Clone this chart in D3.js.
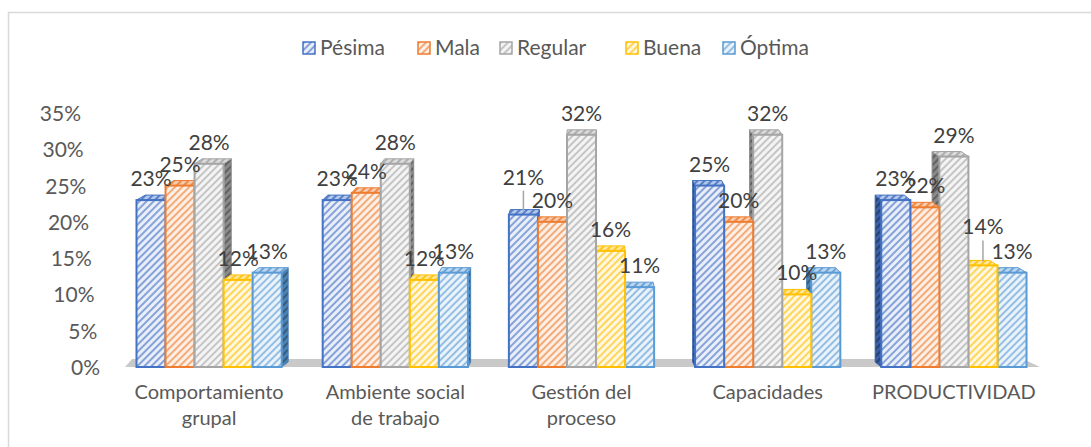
<!DOCTYPE html>
<html>
<head>
<meta charset="utf-8">
<script src="https://cdn.jsdelivr.net/npm/d3@7.9.0/dist/d3.min.js"></script>
<style>
  body { margin: 0; background: #fff; }
  text { font-family: Lato, "Open Sans", sans-serif; }
</style>
</head>
<body>
<div id="vis"></div>
<script>
// chart values
const categories = [
  ["Comportamiento", "grupal"],
  ["Ambiente social", "de trabajo"],
  ["Gestión del", "proceso"],
  ["Capacidades"],
  ["PRODUCTIVIDAD"]
];
const series = ["Pésima", "Mala", "Regular", "Buena", "Óptima"];
const colors = ["#4472C4", "#ED7D31", "#A5A5A5", "#FFC000", "#5B9BD5"];
const pesima = [0.23, 0.23, 0.21, 0.25, 0.23];
const mala = [0.25, 0.24, 0.20, 0.20, 0.22];
const regular = [0.28, 0.28, 0.32, 0.32, 0.29];
const buena = [0.12, 0.12, 0.16, 0.10, 0.14];
const optima = [0.13, 0.13, 0.11, 0.13, 0.13];
const yTicks = [0, 0.05, 0.10, 0.15, 0.20, 0.25, 0.30, 0.35];

const values = [pesima, mala, regular, buena, optima];

const width = 1091;
const height = 447;
const vanishX = 590; // perspective centre
const persp = 0.02;
const depthY = -5;

const catKeys = categories.map((c) => c.join(" "));
const xScale = d3.scaleBand().domain(catKeys).range([116, 1047])
  .paddingInner(0.22).paddingOuter(0.11);
const sScale = d3.scaleBand().domain(series).range([0, xScale.bandwidth()]);
const yScale = d3.scaleLinear().domain([0, 0.35]).range([367, 113]);
// perspective shift of the tick labels
const tickX = d3.scaleLinear().domain([0, 0.35]).range([100, 81]);

const svg = d3.select("#vis").append("svg")
  .attr("width", width).attr("height", height);

const defs = svg.append("defs");
function makePattern(id, bg, fg, sw) {
  const p = defs.append("pattern")
    .attr("id", id)
    .attr("patternUnits", "userSpaceOnUse")
    .attr("width", 5).attr("height", 5)
    .attr("patternTransform", "rotate(45)");
  p.append("rect").attr("width", 5).attr("height", 5).attr("fill", bg);
  p.append("rect").attr("width", sw).attr("height", 5).attr("fill", fg);
}
const tint = (c, t) => d3.interpolateRgb(c, "#fff")(t);
colors.forEach((c, i) => {
  makePattern(`pat-${i}`, tint(c, 0.88), tint(c, 0.35), 2);
  makePattern(`side-${i}`, d3.color(c).darker(0.5), d3.color(c).darker(1.5), 2);
  makePattern(`top-${i}`, tint(c, 0.6), tint(c, 0.1), 2);
});

// chart border
svg.append("rect")
  .attr("x", 8.5).attr("y", 12.5)
  .attr("width", 1200).attr("height", 600)
  .attr("fill", "none").attr("stroke", "#d9d9d9").attr("stroke-width", 1.5);

// legend
const legendX = [303, 418, 500, 626, 723];
const legend = svg.append("g").selectAll("g")
  .data(series).enter().append("g")
  .attr("transform", (d, i) => `translate(${legendX[i]},42)`);
legend.append("rect")
  .attr("width", 12).attr("height", 12)
  .attr("fill", (d, i) => `url(#pat-${i})`)
  .attr("stroke", (d, i) => colors[i]).attr("stroke-width", 1.5);
legend.append("text")
  .attr("x", 17).attr("y", 13)
  .attr("font-size", 21).attr("fill", "#595959")
  .text((d) => d);

// floor
const [r0, r1] = xScale.range();
const floorY = yScale(0);
svg.append("polygon")
  .attr("points", [
    [r0 + 9, floorY], [r1 - 7, floorY],
    [r1 - 24, floorY - 8], [r0 + 16, floorY - 8]
  ].join(" "))
  .attr("fill", "#c9c9c9");

// y tick labels
svg.append("g").selectAll("text")
  .data(yTicks).enter().append("text")
  .attr("x", (d) => tickX(d))
  .attr("y", (d) => yScale(d) + 8)
  .attr("text-anchor", "end")
  .attr("font-size", 21).attr("fill", "#595959")
  .text(d3.format(".0%"));

// bars
const bars = [];
catKeys.forEach((c, ci) => {
  series.forEach((s, si) => {
    const x0 = xScale(c) + sScale(s);
    const w = sScale.bandwidth();
    bars.push({ ci, si, x0, w, v: values[si][ci], cx: x0 + w / 2 });
  });
});
bars.sort((a, b) => Math.abs(b.cx - vanishX) - Math.abs(a.cx - vanishX));

const barG = svg.append("g");
bars.forEach((b) => {
  const g = barG.append("g");
  const y0 = yScale(b.v);
  const yb = yScale(0);
  const dx = (vanishX - b.cx) * persp;
  const dy = depthY;
  const x1 = b.x0 + b.w;
  const c = colors[b.si];
  const sx = dx > 0 ? x1 : b.x0;
  g.append("polygon")
    .attr("points", [[sx, y0], [sx + dx, y0 + dy], [sx + dx, yb + dy], [sx, yb]].join(" "))
    .attr("fill", `url(#side-${b.si})`)
    .attr("stroke", d3.color(c).darker(0.5)).attr("stroke-width", 1);
  g.append("polygon")
    .attr("points", [[b.x0, y0], [x1, y0], [x1 + dx, y0 + dy], [b.x0 + dx, y0 + dy]].join(" "))
    .attr("fill", `url(#top-${b.si})`)
    .attr("stroke", c).attr("stroke-width", 1);
  g.append("rect")
    .attr("x", b.x0).attr("y", y0)
    .attr("width", b.w).attr("height", yb - y0)
    .attr("fill", `url(#pat-${b.si})`)
    .attr("stroke", c).attr("stroke-width", 2);
});

// data labels (two are lifted with a leader line)
const lifted = { "2-0": 16, "4-3": 17 };
const labelG = svg.append("g");
catKeys.forEach((c, ci) => {
  series.forEach((s, si) => {
    const v = values[si][ci];
    const cx = xScale(c) + sScale(s) + sScale.bandwidth() / 2;
    const lift = lifted[`${ci}-${si}`] || 0;
    const ty = yScale(v) - 14 - lift;
    if (lift) {
      labelG.append("line")
        .attr("x1", cx).attr("x2", cx)
        .attr("y1", ty + 6).attr("y2", yScale(v) - 4)
        .attr("stroke", "#a6a6a6").attr("stroke-width", 1.5);
    }
    labelG.append("text")
      .attr("x", cx).attr("y", ty)
      .attr("text-anchor", "middle")
      .attr("font-size", 21).attr("fill", "#404040")
      .text(d3.format(".0%")(v));
  });
});

// category labels
const catG = svg.append("g").selectAll("text")
  .data(categories).enter().append("text")
  .attr("x", (d) => xScale(d.join(" ")) + xScale.bandwidth() / 2)
  .attr("y", 399)
  .attr("text-anchor", "middle")
  .attr("font-size", 20).attr("fill", "#595959");
catG.selectAll("tspan")
  .data((d) => d).enter().append("tspan")
  .attr("x", function () { return d3.select(this.parentNode).attr("x"); })
  .attr("dy", (d, i) => (i === 0 ? 0 : 26))
  .text((d) => d);
</script>
</body>
</html>
